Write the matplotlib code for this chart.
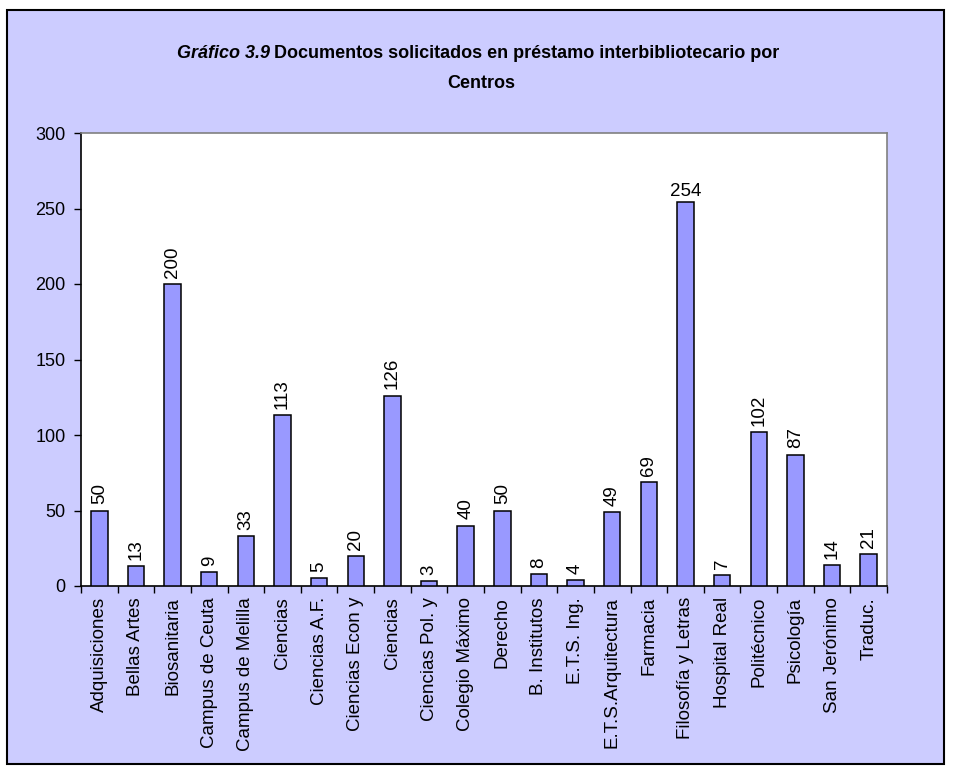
import matplotlib
matplotlib.use("Agg")
import matplotlib.pyplot as plt
from matplotlib.patches import Rectangle
from matplotlib.ticker import FixedLocator

plt.rcParams["font.family"] = ["Liberation Sans", "DejaVu Sans"]

centros = [
    "Adquisiciones", "Bellas Artes", "Biosanitaria", "Campus de Ceuta",
    "Campus de Melilla", "Ciencias", "Ciencias A.F.", "Ciencias Econ y",
    "Ciencias", "Ciencias Pol. y", "Colegio Máximo", "Derecho",
    "B. Institutos", "E.T.S. Ing.", "E.T.S.Arquitectura", "Farmacia",
    "Filosofía y Letras", "Hospital Real", "Politécnico", "Psicología",
    "San Jerónimo", "Traduc.",
]
documentos = [50, 13, 200, 9, 33, 113, 5, 20, 126, 3, 40, 50,
              8, 4, 49, 69, 254, 7, 102, 87, 14, 21]
y_ticks = [0, 50, 100, 150, 200, 250, 300]

W, H = 955, 773
fig = plt.figure(figsize=(W / 100, H / 100), dpi=100)
fig.patch.set_facecolor("white")

# outer chart frame
fig.patches.append(Rectangle((7 / W, 1 - 764 / H), 937 / W, 754 / H,
                             transform=fig.transFigure, facecolor="#CCCCFF",
                             edgecolor="black", linewidth=1.5, zorder=-5))

ax = fig.add_axes([81 / W, 1 - 586 / H, 806 / W, 453 / H])
ax.set_zorder(2)
ax.set_facecolor("white")

x = range(len(documentos))
ax.bar(x, documentos, width=0.45, color="#9999FF", edgecolor="black",
       linewidth=1.1, zorder=3)

for xi, v in zip(x, documentos):
    if v == max(documentos):
        ax.annotate(str(v), (xi, v), xytext=(0, 2), textcoords="offset points",
                    ha="center", va="bottom", fontsize=13.5)
    else:
        ax.annotate(str(v), (xi, v), xytext=(0, 4.5), textcoords="offset points",
                    ha="center", va="bottom", rotation=90, fontsize=13.5)

ax.set_xlim(-0.5, len(documentos) - 0.5)
ax.set_ylim(0, 300)
ax.set_yticks(y_ticks)
ax.tick_params(axis="y", direction="out", length=5, width=1, pad=6, labelsize=13)

ax.set_xticks(list(x))
ax.set_xticklabels(centros, rotation=90, ha="center", va="top", fontsize=13.5)
ax.xaxis.set_minor_locator(FixedLocator([i - 0.5 for i in range(len(documentos) + 1)]))
ax.tick_params(axis="x", which="major", length=0, pad=8)
ax.tick_params(axis="x", which="minor", direction="out", length=5, width=1)

for side in ["left", "bottom"]:
    ax.spines[side].set_color("black")
    ax.spines[side].set_linewidth(1.2)
for side in ["top", "right"]:
    ax.spines[side].set_color("#808080")
    ax.spines[side].set_linewidth(1.2)

# title: italic part + bold part on the first line
title_font = ["Liberation Sans Narrow", "Liberation Sans"]
fig.canvas.draw()
renderer = fig.canvas.get_renderer()
y1 = 1 - 58 / H
t1 = fig.text(0, y1, "Gráfico 3.9", fontsize=13, fontweight="bold",
              fontstyle="italic", va="baseline", family=title_font)
t2 = fig.text(0, y1, "Documentos solicitados en préstamo interbibliotecario por",
              fontsize=13, fontweight="bold", va="baseline", family=title_font)
w1 = t1.get_window_extent(renderer).width
w2 = t2.get_window_extent(renderer).width
gap = 0.25 * 13 * 100 / 72
start = 478 - (w1 + gap + w2) / 2
t1.set_x(start / W)
t2.set_x((start + w1 + gap) / W)
fig.text(481 / W, 1 - 88 / H, "Centros", fontsize=13, fontweight="bold",
         ha="center", va="baseline", family=title_font)

fig.savefig("out.png", dpi=100)
